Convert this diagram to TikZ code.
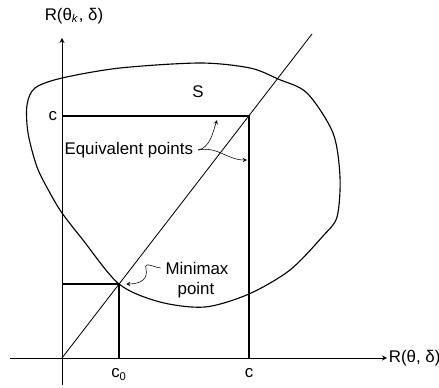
\documentclass[tikz,border=0pt]{standalone}
\usepackage{fontspec}
\setmainfont{Liberation Sans}
\begin{document}
\begin{tikzpicture}[x=0.025cm, y=0.025cm, >=stealth, font=\fontsize{12}{15}\selectfont]
  \useasboundingbox (-62,-29) rectangle (377,358);
  \coordinate (O) at (0,0);
  \coordinate (xstart) at (-52,0);
  \coordinate (xend) at (325,0);
  \coordinate (ystart) at (0,-27);
  \coordinate (yend) at (0,320);
  \coordinate (C) at (187,242);
  \coordinate (Cy) at (0,242);
  \coordinate (Cx) at (187,0);
  \coordinate (M) at (57,74);
  \coordinate (My) at (0,74);
  \coordinate (Mx) at (57,0);
  \coordinate (diag) at (250,324);

  % axes
  \draw[semithick, ->] (xstart) -- (xend) node[right, inner sep=1pt] (xlab) {R(θ, δ)};
  \draw[semithick, ->] (ystart) -- (yend);
  \node (ylab) at (12,342) {R(θ\textsubscript{\textit{k}}, δ)};

  % the set S
  \draw[thick] plot[smooth cycle] coordinates {
    (0,280) (58,290) (138,295) (188,290) (216,279) (245,265) (271,225)
    (278,181) (275,141) (261,122) (228,88) (187,64) (143,51) (98,56)
    (57,74) (21,118) (0,145) (-12,165) (-25,191) (-34,225) (-35,253) (-27,270)};
  \node (S) at (136,266) {S};

  \draw[semithick] (O) -- (diag);
  \draw[thick] (Cy) -- (C) -- (Cx);
  \draw[thick] (My) -- (M) -- (Mx);

  \node[left] (clab) at (Cy) {c};
  \node[below=4pt] (cxlab) at (Cx) {c};
  \node[below=4pt] (c0lab) at (Mx) {c\textsubscript{0}};

  % leaders
  \node[anchor=east] (equiv) at (136,208) {Equivalent points};
  \coordinate (eq1) at (155,238);
  \coordinate (eq2) at (185,198);
  \draw[->] (equiv.east) .. controls +(12,2) and (151,226) .. (eq1);
  \draw[->] (equiv.east) .. controls +(20,4) and (165,198) .. (eq2);

  \node (minimax) at (135,90) {Minimax};
  \node (pointlbl) at (134,68) {point};
  \coordinate (mtip) at (64,74);
  \draw[->] (minimax.west) .. controls +(-8,1) and (82,97) .. (84,89)
    .. controls (86,80) and (80,74) .. (mtip);
\end{tikzpicture}
\end{document}
